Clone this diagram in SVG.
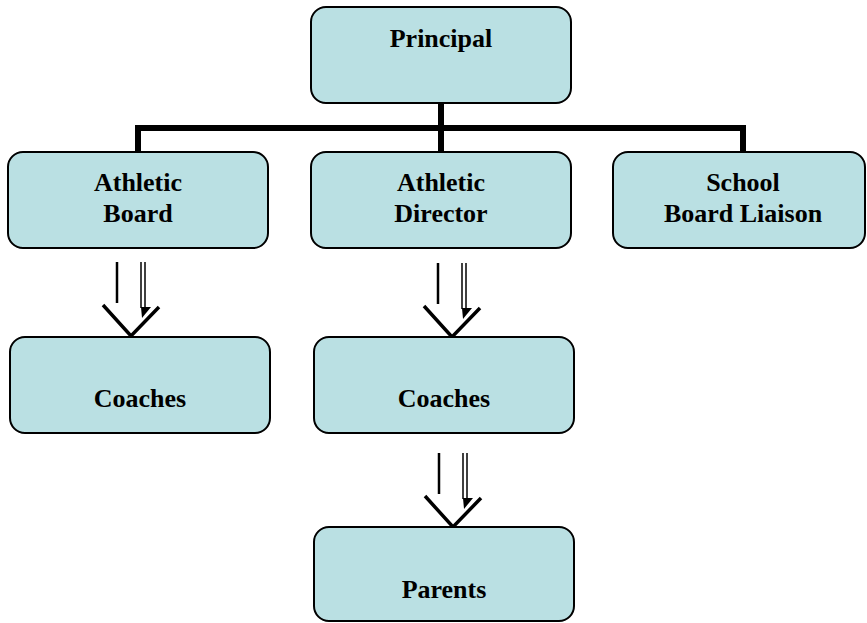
<svg xmlns="http://www.w3.org/2000/svg" xmlns:xlink="http://www.w3.org/1999/xlink" width="867" height="623" viewBox="0 0 867 623">
  <style>
    .box { fill: #bae0e3; stroke: #000; stroke-width: 2; }
    .label { font-family: "Liberation Serif", "Times New Roman", serif; font-weight: bold; font-size: 26px; fill: #000; text-anchor: middle; }
    .bar { stroke: #000; stroke-width: 6; fill: none; }
    .shaft { stroke: #000; stroke-width: 2.5; fill: none; }
    .shaft-thin { stroke: #000; stroke-width: 1.5; fill: none; }
    .head { stroke: #000; stroke-width: 3.5; fill: none; stroke-linejoin: miter; }
  </style>
  <defs>
    <!-- hollow down arrow, origin at the tip -->
    <g id="downArrow">
      <line class="shaft" x1="-14" y1="-74" x2="-14" y2="-33"/>
      <line class="shaft-thin" x1="10" y1="-74" x2="10" y2="-28"/>
      <line class="shaft-thin" x1="14" y1="-74" x2="14" y2="-28"/>
      <polygon points="10,-29 20,-29 11,-18" fill="#000"/>
      <polyline class="head" points="-28,-31 0,0 28,-29"/>
    </g>
  </defs>

  <!-- connectors -->
  <g id="connectors">
    <line class="bar" x1="441" y1="103" x2="441" y2="152"/>
    <line class="bar" x1="135" y1="128" x2="746" y2="128"/>
    <line class="bar" x1="138" y1="128" x2="138" y2="152"/>
    <line class="bar" x1="743" y1="128" x2="743" y2="152"/>
    <use xlink:href="#downArrow" transform="translate(131,336)"/>
    <use xlink:href="#downArrow" transform="translate(452,337)"/>
    <use xlink:href="#downArrow" transform="translate(453,527)"/>
  </g>

  <g id="principal">
    <rect class="box" x="311" y="7" width="260" height="96" rx="15"/>
    <text class="label" x="441" y="47">Principal</text>
  </g>

  <g id="athletic-board">
    <rect class="box" x="8" y="152" width="260" height="96" rx="15"/>
    <text class="label" x="138" y="191">Athletic</text>
    <text class="label" x="138" y="222">Board</text>
  </g>

  <g id="athletic-director">
    <rect class="box" x="311" y="152" width="260" height="96" rx="15"/>
    <text class="label" x="441" y="191">Athletic</text>
    <text class="label" x="441" y="222">Director</text>
  </g>

  <g id="school-board-liaison">
    <rect class="box" x="613" y="152" width="252" height="96" rx="15"/>
    <text class="label" x="743" y="191">School</text>
    <text class="label" x="743" y="222">Board Liaison</text>
  </g>

  <g id="coaches-board">
    <rect class="box" x="10" y="337" width="260" height="96" rx="15"/>
    <text class="label" x="140" y="407">Coaches</text>
  </g>

  <g id="coaches-director">
    <rect class="box" x="314" y="337" width="260" height="96" rx="15"/>
    <text class="label" x="444" y="407">Coaches</text>
  </g>

  <g id="parents">
    <rect class="box" x="314" y="527" width="260" height="94" rx="15"/>
    <text class="label" x="444" y="598">Parents</text>
  </g>
</svg>
